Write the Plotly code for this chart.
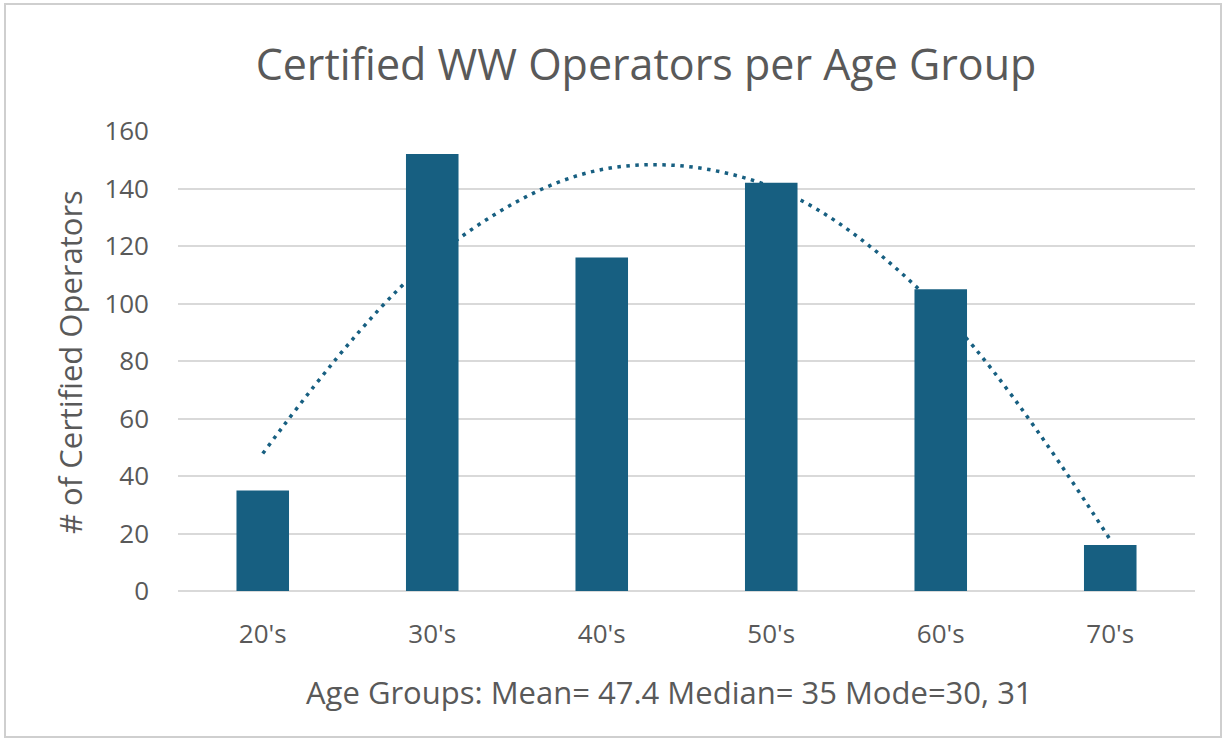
import plotly.graph_objects as go

categories = ["20's", "30's", "40's", "50's", "60's", "70's"]
operators = [35, 152, 116, 142, 105, 16]
# dotted polynomial trendline, values at each category
trend_values = [47.8, 115.6, 146.6, 140.6, 97.6, 17.8]

title_text = "Certified WW Operators per Age Group"
x_title = "Age Groups: Mean= 47.4 Median= 35 Mode=30, 31"
y_title = "# of Certified Operators"

W, H = 1225, 740
# plot area in pixels of the reference
L, R, T, B = 178, 1195, 131, 591

BAR = "#175f81"
TXT = "#595959"
GRID = "#d9d9d9"
FONT = "Open Sans, Liberation Sans, Arial, sans-serif"


def px(x):
    return (x - L) / (R - L)


def py(y):
    return (B - y) / (B - T)


x_idx = list(range(len(categories)))

fig = go.Figure()
fig.add_trace(go.Scatter(
    x=x_idx, y=trend_values,
    mode="lines", line=dict(color=BAR, width=3.5, dash="3.5px,5.5px", shape="spline", smoothing=1.0),
    xaxis="x", yaxis="y", hoverinfo="skip", showlegend=False,
))
fig.add_trace(go.Bar(
    x=x_idx, y=operators, width=0.31, marker=dict(color=BAR, line=dict(width=0)),
    xaxis="x", yaxis="y2", showlegend=False,
))

fig.update_layout(
    width=W, height=H,
    margin=dict(l=L, r=W - R, t=T, b=H - B),
    paper_bgcolor="white", plot_bgcolor="white",
    font=dict(family=FONT, color=TXT),
    title=dict(text=title_text, x=646 / W, xref="container",
               xanchor="center", y=1 - 65 / H, yref="container", yanchor="middle",
               font=dict(family=FONT, size=43, color=TXT)),
    xaxis=dict(range=[-0.5, 5.5], tickvals=x_idx, ticktext=categories, showgrid=False,
               zeroline=False, showline=False, ticks="", ticklabelstandoff=25,
               tickfont=dict(size=26, color=TXT)),
    yaxis=dict(range=[0, 160], dtick=20, showgrid=True, gridcolor=GRID, gridwidth=2,
               zeroline=True, zerolinecolor=GRID, zerolinewidth=2, showline=False,
               ticks="", ticklabelstandoff=28, tickfont=dict(size=26, color=TXT)),
    yaxis2=dict(range=[0, 160], overlaying="y", visible=False),
    shapes=[dict(type="rect", xref="paper", yref="paper",
                 x0=px(5), x1=px(1221), y0=py(737), y1=py(4),
                 line=dict(color="#cfcfcf", width=2), layer="below")],
    annotations=[
        dict(text=x_title, xref="paper", yref="paper",
             x=px(669), y=py(692), xanchor="center", yanchor="middle",
             showarrow=False, font=dict(size=31, color=TXT)),
        dict(text=y_title, xref="paper", yref="paper", textangle=-90,
             x=px(70), y=py(362), xanchor="center", yanchor="middle",
             showarrow=False, font=dict(size=31, color=TXT)),
    ],
)

fig.write_html("out.html", config={"displayModeBar": False},
               post_script="document.body.style.margin='0';")
